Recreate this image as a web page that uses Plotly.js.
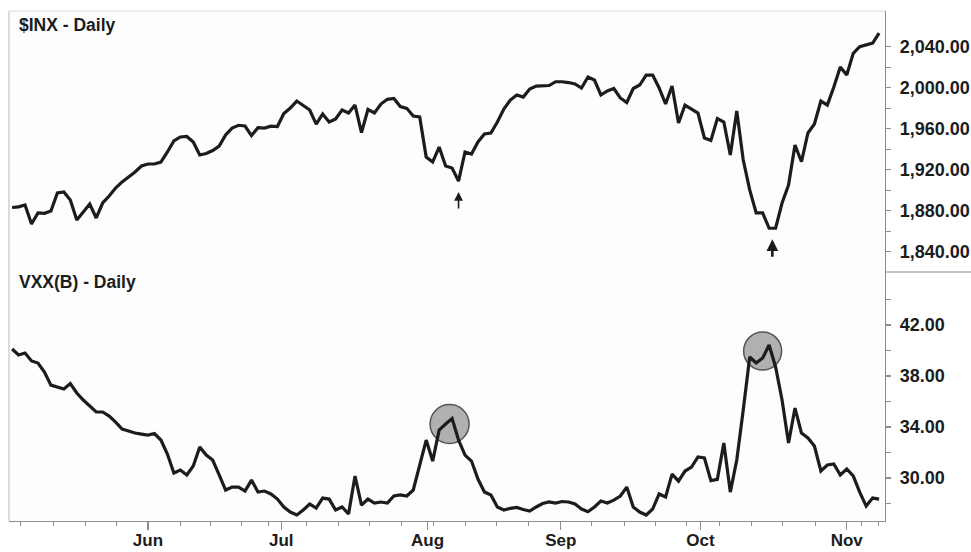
<!DOCTYPE html>
<html>
<head>
<meta charset="utf-8">
<script src="https://cdn.plot.ly/plotly-3.0.1.min.js"></script>
<style>
  html, body { margin: 0; padding: 0; background: #ffffff; }
  #chart { width: 971px; height: 552px; }
</style>
</head>
<body>
<div id="chart"></div>
<script>
// ---- data (one value per trading day) ----
const inxClose = [
  1883.2, 1883.9, 1885.7, 1867.2, 1877.9, 1877.6, 1879.8, 1897.4, 1898.3, 1890.5,
  1871.1, 1878.9, 1886.6, 1873.0, 1887.6, 1894.4, 1902.2, 1908.1, 1912.9, 1917.8,
  1923.6, 1925.6, 1925.6, 1927.5, 1937.3, 1948.0, 1951.9, 1952.4, 1947.0, 1934.4,
  1935.8, 1938.7, 1943.1, 1953.8, 1960.6, 1963.3, 1962.6, 1953.3, 1960.9, 1960.6,
  1962.4, 1962.1, 1974.8, 1980.1, 1986.9, 1983.0, 1978.2, 1964.5, 1974.3, 1966.5,
  1969.4, 1978.2, 1975.3, 1983.0, 1956.1, 1978.7, 1975.3, 1984.0, 1988.6, 1989.4,
  1981.6, 1979.8, 1972.3, 1971.4, 1932.4, 1927.5, 1942.1, 1923.6, 1921.7, 1909.0,
  1937.3, 1935.3, 1947.0, 1954.8, 1955.8, 1966.5, 1979.1, 1987.9, 1992.8, 1990.8,
  1998.6, 2001.5, 2001.5, 2002.0, 2005.7, 2005.7, 2004.9, 2003.5, 1999.6, 2010.3,
  2007.4, 1992.8, 1996.7, 1999.1, 1989.9, 1985.5, 1999.1, 2002.5, 2012.2, 2012.2,
  1999.6, 1984.0, 2001.5, 1965.5, 1983.0, 1979.1, 1975.2, 1950.9, 1948.5, 1969.9,
  1966.5, 1934.4, 1977.2, 1929.5, 1900.3, 1877.9, 1877.9, 1863.0, 1863.0, 1887.6,
  1905.1, 1944.1, 1927.8, 1955.8, 1964.5, 1986.9, 1983.0, 2000.6, 2020.0, 2012.2,
  2033.4, 2039.8, 2041.5, 2043.4, 2053.1
];
const vxxClose = [
  40.12, 39.65, 39.80, 39.18, 39.02, 38.31, 37.29, 37.14, 36.98, 37.41,
  36.67, 36.12, 35.65, 35.18, 35.18, 34.86, 34.39, 33.84, 33.69, 33.53,
  33.45, 33.37, 33.49, 32.98, 31.88, 30.39, 30.63, 30.24, 30.94, 32.43,
  31.80, 31.41, 30.24, 29.06, 29.29, 29.29, 28.98, 29.84, 28.90, 28.98,
  28.75, 28.35, 27.73, 27.33, 27.10, 27.49, 27.96, 27.65, 28.43, 28.35,
  27.49, 27.73, 27.18, 30.16, 27.88, 28.35, 28.04, 28.12, 28.04, 28.59,
  28.67, 28.59, 29.06, 31.02, 32.98, 31.33, 33.76, 34.24, 34.67, 32.98,
  31.80, 31.33, 29.92, 28.90, 28.67, 27.73, 27.49, 27.62, 27.69, 27.53,
  27.41, 27.73, 28.00, 28.12, 28.04, 28.16, 28.12, 27.96, 27.57, 27.36,
  27.73, 28.20, 28.04, 28.27, 28.59, 29.29, 27.73, 27.33, 27.10, 27.57,
  28.75, 28.51, 30.31, 29.76, 30.55, 30.86, 31.65, 31.57, 29.80, 29.90,
  32.75, 28.90, 31.41, 35.33, 39.49, 39.02, 39.41, 40.43, 38.71, 36.12,
  32.75, 35.49, 33.53, 33.14, 32.51, 30.55, 31.02, 31.10, 30.24, 30.71,
  30.16, 28.90, 27.80, 28.43, 28.35
];
// month labels and the trading-day position of each month boundary tick
const monthLabels = ['Jun', 'Jul', 'Aug', 'Sep', 'Oct', 'Nov'];
const monthTickDays = [21, 41.6, 64.2, 84.8, 106.4, 129];
// weekly minor ticks (trading-day positions)
const weekTickDays = [1.3, 6.4, 11.3, 16.2, 26.0, 30.7, 35.5, 39.6, 45.5, 50.4, 55.3, 60.2,
  65.2, 70.0, 74.9, 79.8, 89.6, 94.7, 99.5, 104.3, 109.4, 114.3, 119.1, 124.1, 131.3, 133.9];
const inxTicks = [1840, 1880, 1920, 1960, 2000, 2040];
const inxMinorTicks = [1860, 1900, 1940, 1980, 2020];
const vxxTicks = [30, 34, 38, 42];
const vxxMinorTicks = [28, 32, 36, 40, 44];
// marked turning points (trading-day positions)
const inxLowDays = [69, 117.5];
const vxxPeakDays = [68, 117];

// ---- build ----
const days = inxClose.map((_, i) => i);
const FONT = 'Liberation Sans, Arial, Helvetica, sans-serif';
const INK = '#1c1c1c';
const AX = '#8c8c8c';

function valueAt(arr, d) {
  const lo = Math.floor(d), hi = Math.ceil(d);
  return Math.min(arr[lo], arr[hi]);
}

const traces = [
  { x: days, y: inxClose, xaxis: 'x', yaxis: 'y', type: 'scatter', mode: 'lines',
    line: { color: INK, width: 3.2, shape: 'linear' }, hoverinfo: 'skip' },
  { x: days, y: vxxClose, xaxis: 'x', yaxis: 'y2', type: 'scatter', mode: 'lines',
    line: { color: INK, width: 3.2, shape: 'linear' }, hoverinfo: 'skip' }
];

const splitY = 249 / 510;

const circleStyle = [
  { dx: -2.5, dy: -5.5, r: 19.5 },
  { dx: -6.5, dy: -6, r: 19 }
];
const arrowStyle = [
  { width: 1.6, size: 1.1, ay: 29 },
  { width: 2.6, size: 0.9, ay: 30 }
];

const shapes = [
  // left frame line
  { type: 'line', xref: 'paper', yref: 'paper', x0: 0, x1: 0, y0: 0, y1: 1,
    line: { color: '#c4c4c4', width: 1.2 } },
  // top frame line
  { type: 'line', xref: 'paper', yref: 'paper', x0: 0, x1: 1, y0: 1, y1: 1,
    line: { color: '#dcdcdc', width: 1.2 } },
  // divider in the right-hand scale column
  { type: 'line', xref: 'paper', yref: 'paper', x0: 1, x1: 1.12, y0: splitY, y1: splitY,
    line: { color: AX, width: 1.2 } }
];
vxxPeakDays.forEach((d, k) => {
  const s = circleStyle[k];
  shapes.push({
    type: 'circle', layer: 'below', xref: 'x', yref: 'y2',
    xsizemode: 'pixel', ysizemode: 'pixel',
    xanchor: d, yanchor: vxxClose[d],
    x0: s.dx - s.r, x1: s.dx + s.r, y0: s.dy - s.r, y1: s.dy + s.r,
    fillcolor: 'rgba(150,150,150,0.75)',
    line: { color: '#555555', width: 1.5 }
  });
});

const annotations = [
  { text: '$INX - Daily', xref: 'paper', yref: 'paper', x: 0.0095, y: 0.9725,
    xanchor: 'left', yanchor: 'middle', showarrow: false,
    font: { family: FONT, size: 17.5, color: INK, weight: 700 } },
  { text: 'VXX(B) - Daily', xref: 'paper', yref: 'paper', x: 0.0095, y: 0.469,
    xanchor: 'left', yanchor: 'middle', showarrow: false,
    font: { family: FONT, size: 17.5, color: INK, weight: 700 } }
];
inxLowDays.forEach((d, k) => {
  const s = arrowStyle[k];
  annotations.push({
    xref: 'x', yref: 'y', x: d, y: valueAt(inxClose, d), text: '',
    showarrow: true, arrowhead: 2, arrowsize: s.size, arrowwidth: s.width,
    arrowcolor: INK, ax: 0, ay: s.ay, standoff: 11
  });
});

const tickFont = { family: FONT, size: 18, color: INK, weight: 700 };

const layout = {
  width: 971, height: 552,
  margin: { l: 9, r: 86, t: 11, b: 31, pad: 0 },
  paper_bgcolor: '#ffffff', plot_bgcolor: '#fdfdfd',
  showlegend: false,
  xaxis: {
    anchor: 'y2', type: 'linear', range: [-0.479, 134.91],
    showgrid: false, zeroline: false,
    showline: true, linecolor: AX, linewidth: 1.2,
    tickmode: 'array', tickvals: monthTickDays, ticktext: monthLabels,
    ticks: 'outside', ticklen: 8, tickwidth: 1.2, tickcolor: AX,
    ticklabelstandoff: -5,
    tickfont: { family: FONT, size: 17, color: INK, weight: 700 },
    minor: { tickmode: 'array', tickvals: weekTickDays, ticks: 'outside',
             ticklen: 4, tickwidth: 1, tickcolor: AX, showgrid: false }
  },
  yaxis: {
    domain: [splitY, 1], anchor: 'x', side: 'right',
    range: [1820.4, 2074.6],
    showgrid: false, zeroline: false,
    showline: true, linecolor: AX, linewidth: 1.2,
    tickmode: 'array', tickvals: inxTicks, tickformat: ',.2f',
    ticks: 'outside', ticklen: 5, tickwidth: 1.2, tickcolor: AX,
    ticklabelstandoff: 5,
    tickfont: tickFont,
    minor: { tickmode: 'array', tickvals: inxMinorTicks, ticks: 'outside',
             ticklen: 5, tickwidth: 1, tickcolor: AX, showgrid: false }
  },
  yaxis2: {
    domain: [0, splitY], anchor: 'x', side: 'right',
    range: [26.63, 46.16],
    showgrid: false, zeroline: false,
    showline: true, linecolor: AX, linewidth: 1.2,
    tickmode: 'array', tickvals: vxxTicks, tickformat: '.2f',
    ticks: 'outside', ticklen: 5, tickwidth: 1.2, tickcolor: AX,
    ticklabelstandoff: 5,
    tickfont: tickFont,
    minor: { tickmode: 'array', tickvals: vxxMinorTicks, ticks: 'outside',
             ticklen: 5, tickwidth: 1, tickcolor: AX, showgrid: false }
  },
  shapes: shapes,
  annotations: annotations
};

Plotly.newPlot('chart', traces, layout, { displayModeBar: false, staticPlot: true });
</script>
</body>
</html>
